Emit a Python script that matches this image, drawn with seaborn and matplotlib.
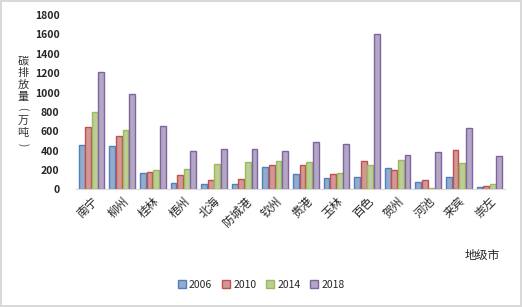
import pandas as pd
import seaborn as sns
import matplotlib.pyplot as plt

cities = ['南宁', '柳州', '桂林', '梧州', '北海', '防城港', '钦州',
          '贵港', '玉林', '百色', '贺州', '河池', '来宾', '崇左']
years = ['2006', '2010', '2014', '2018']
v2006 = [458, 451, 170, 67, 57, 57, 230, 162, 116, 126, 225, 80, 129, 23]
v2010 = [647, 548, 177, 146, 98, 105, 257, 250, 163, 297, 198, 98, 408, 36]
v2014 = [796, 617, 201, 211, 259, 287, 291, 285, 170, 256, 304, 15, 277, 60]
v2018 = [1212, 983, 657, 397, 421, 418, 394, 487, 466, 1608, 356, 384, 632, 343]

rows = []
for yr, vals in zip(years, [v2006, v2010, v2014, v2018]):
    for c, v in zip(cities, vals):
        rows.append({'city': c, 'year': yr, 'value': v})
df = pd.DataFrame(rows)

sns.set_style('white')
plt.rcParams['font.family'] = ['Noto Sans CJK SC', 'DejaVu Sans']

fills = ['#8aaad6', '#dc8f8d', '#c0d68e', '#b3a2c9']
edges = ['#4f81bd', '#c0504d', '#9bbb59', '#8064a2']

W, H = 522, 307
fig = plt.figure(figsize=(5.22, 3.07), dpi=100, edgecolor='#d9d9d9', linewidth=1.5)
ax = fig.add_axes([0.146, 0.383, 0.821, 0.568])
sns.barplot(data=df, x='city', y='value', hue='year', palette=fills,
            width=0.86, gap=0.12, ax=ax, legend=True)

for i, cont in enumerate(ax.containers):
    for bar in cont:
        bar.set_edgecolor(edges[i])
        bar.set_linewidth(1.0)

ax.set_ylim(0, 1800)
ax.set_xlim(-0.5, 13.5)
ax.set_yticks(range(0, 1801, 200))
ax.tick_params(axis='y', length=0, pad=12, labelsize=7.5)
for t in ax.get_yticklabels():
    t.set_fontweight('bold')
ax.tick_params(axis='x', length=0, pad=4, labelsize=8.5)
plt.setp(ax.get_xticklabels(), rotation=45, ha='right', rotation_mode='anchor')

for s in ['top', 'right', 'left']:
    ax.spines[s].set_visible(False)
ax.spines['bottom'].set_color('#d9d9d9')
ax.set_xlabel('')
ax.set_ylabel('')

# vertical y label, one character per line
label_chars = ['碳', '排', '放', '量', '(', '万', '吨', ')']
label_y = [61, 73, 85, 97, 109, 121, 133, 145]
for ch, py in zip(label_chars, label_y):
    paren = ch in '()'
    fig.text(23 / W, 1 - py / H, ch, ha='center', va='center',
             fontsize=7 if paren else 8, rotation=-90 if paren else 0,
             color='#333333')

fig.text(482 / W, 1 - 255 / H, '地级市', ha='center', va='center', fontsize=8.5)

ax.legend(loc='center', bbox_to_anchor=(0.5, 1 - 285 / H), bbox_transform=fig.transFigure,
          ncol=4, frameon=False,
          fontsize=7.5, handlelength=0.8, handleheight=0.8, handletextpad=0.3,
          columnspacing=0.9)
leg = ax.get_legend()
for i, h in enumerate(leg.legend_handles):
    h.set_edgecolor(edges[i])

fig.savefig('out.png', dpi=100)
